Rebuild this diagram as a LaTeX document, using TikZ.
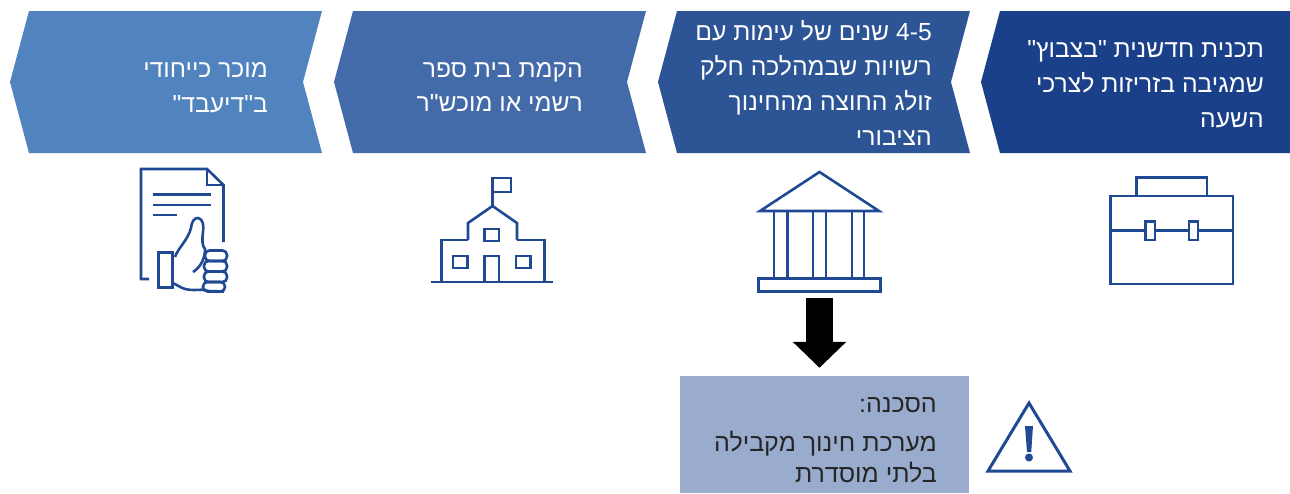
\documentclass[tikz,border=0pt]{standalone}
\usepackage{fontspec}
\usetikzlibrary{arrows.meta}
\newfontfamily\hebfont[Script=Hebrew]{Liberation Sans}
\TeXXeTstate=1
\newcommand{\heb}[1]{\beginR #1\endR}
\definecolor{chevA}{HTML}{5183BE}
\definecolor{chevB}{HTML}{436BA9}
\definecolor{chevC}{HTML}{2D5596}
\definecolor{chevD}{HTML}{1B408A}
\definecolor{riskbg}{HTML}{9AACCD}
\definecolor{iconblue}{HTML}{1F4A93}
\tikzset{
  icon/.style={draw=iconblue, line width=2.6pt, line join=miter},
  chevtext/.style={text=white, align=right, anchor=east, inner sep=0pt,
    font=\hebfont\fontsize{24.7}{34.9}\selectfont},
}
\begin{document}
\begin{tikzpicture}[x=1pt, y=-1pt]
  \useasboundingbox (0,0) rectangle (1290,493);

  \foreach \x/\c in {10/chevA, 334/chevB, 658/chevC}{
      \fill[\c] (\x+19,11) -- (\x+312,11) -- (\x+293,82) -- (\x+312,153)
      -- (\x+19,153) -- (\x,82) -- cycle;
    }
  \fill[chevD] (1000,11) -- (1290,11) -- (1290,153) -- (1000,153) -- (981,82) -- cycle;

  \node[chevtext] (textA) at (268,88) {\heb{מוכר כייחודי}\\\heb{ב"דיעבד"}};
  \node[chevtext] (textB) at (583,87) {\heb{הקמת בית ספר}\\\heb{רשמי או מוכש"ר}};
  \node[chevtext] (textC) at (932,83) {\heb{\beginL 4-5\endL{} שנים של עימות עם}\\\heb{רשויות שבמהלכה חלק}\\\heb{זולג החוצה מהחינוך}\\\heb{הציבורי}};
  \node[chevtext] (textD) at (1264,84) {\heb{תכנית חדשנית "בצבוץ"}\\\heb{שמגיבה בזריזות לצרכי}\\\heb{השעה}};

  % thumb
  \draw[icon] (149,279) -- (141,279) -- (141,169) -- (207,169) -- (223.5,185) -- (223.5,242);
  \draw[icon] (207,169) -- (207,185) -- (223.5,185);
  \draw[icon] (153,194.5) -- (211,194.5);
  \draw[icon] (153,205) -- (211,205);
  \draw[icon] (153,215) -- (177,215);
  \draw[icon] (158.5,252.5) rectangle (172.5,287.5);
  \draw[icon] (175,257) .. controls (178,248) and (188,240) .. (191,228)
  .. controls (192,220) and (195,218) .. (198,218)
  .. controls (203,219) and (204,225) .. (203,232)
  .. controls (202,240) and (202,246) .. (205,249)
  .. controls (205,258) and (201,267) .. (193,272);
  \foreach \x/\y/\w/\h in {205/250.5/22/10.5, 204/261/23/10.5, 204/271.5/23/10.5, 203/282/22/9.5}{
      \draw[icon, rounded corners=4.5] (\x,\y) rectangle ++(\w,\h);
    }
  \draw[icon] (172.5,283) .. controls (180,286) and (182,290) .. (194,290)
  .. controls (200,290) and (204,289) .. (208,291) -- (224,291.5);

  % school
  \draw[icon] (431,282) -- (553,282);
  \draw[icon] (468,240) -- (441.5,240) -- (441.5,282);
  \draw[icon] (517,240) -- (544.5,240) -- (544.5,282);
  \draw[icon] (468,240) -- (468,223) -- (492.5,206) -- (517,223) -- (517,240);
  \draw[icon] (492.5,206) -- (492.5,178) -- (511,178) -- (511,192) -- (492.5,192);
  \draw[icon] (484.5,229) rectangle (499,241);
  \draw[icon] (453,256) rectangle (467.5,268);
  \draw[icon] (516,256) rectangle (530.5,268);
  \draw[icon] (484.5,282) -- (484.5,256) -- (499,256) -- (499,282);

  % bank
  \draw[icon] (760,211) -- (819.5,172) -- (879,211) -- cycle;
  \foreach \x in {774, 787.5, 813, 826, 852, 864}{
      \draw[icon] (\x,211) -- (\x,278);
    }
  \node[icon, minimum width=121.5pt, minimum height=13.5pt, inner sep=0pt] (bankbase) at (819.5,285) {};

  % briefcase
  \draw[icon] (1136.5,196) -- (1136.5,177.5) -- (1207,177.5) -- (1207,196);
  \draw[icon] (1110.5,196) rectangle (1233,284);
  \draw[icon] (1110.5,230.5) -- (1145.5,230.5);
  \draw[icon] (1155,230.5) -- (1189,230.5);
  \draw[icon] (1198,230.5) -- (1233,230.5);
  \draw[icon] (1145.5,221.5) rectangle (1155,240);
  \draw[icon] (1189,221.5) rectangle (1198,240);

  % risk
  \node[fill=riskbg, minimum width=289pt, minimum height=117pt, inner sep=0pt] (risk) at (824.5,434.5) {};
  \node[anchor=east, align=right, inner sep=0pt, text=black!85,
    font=\hebfont\fontsize{25}{31}\selectfont] (risktext) at (937,440)
    {\heb{הסכנה:}\\[8pt]\heb{מערכת חינוך מקבילה}\\\heb{בלתי מוסדרת}};
  \draw[line width=26.5pt, -{Triangle[length=26pt, width=52pt]}, shorten <=5pt, shorten >=8pt]
  (bankbase.south) -- (bankbase.south |- risk.north);

  \draw[icon, line width=3pt] (1029,403) -- (1070,471) -- (988,471) -- cycle;
  \fill[iconblue] (1025,426) -- (1033,426) -- (1031.2,452) -- (1027,452) -- cycle;
  \fill[iconblue] (1029,457.5) circle (4);
\end{tikzpicture}
\end{document}
